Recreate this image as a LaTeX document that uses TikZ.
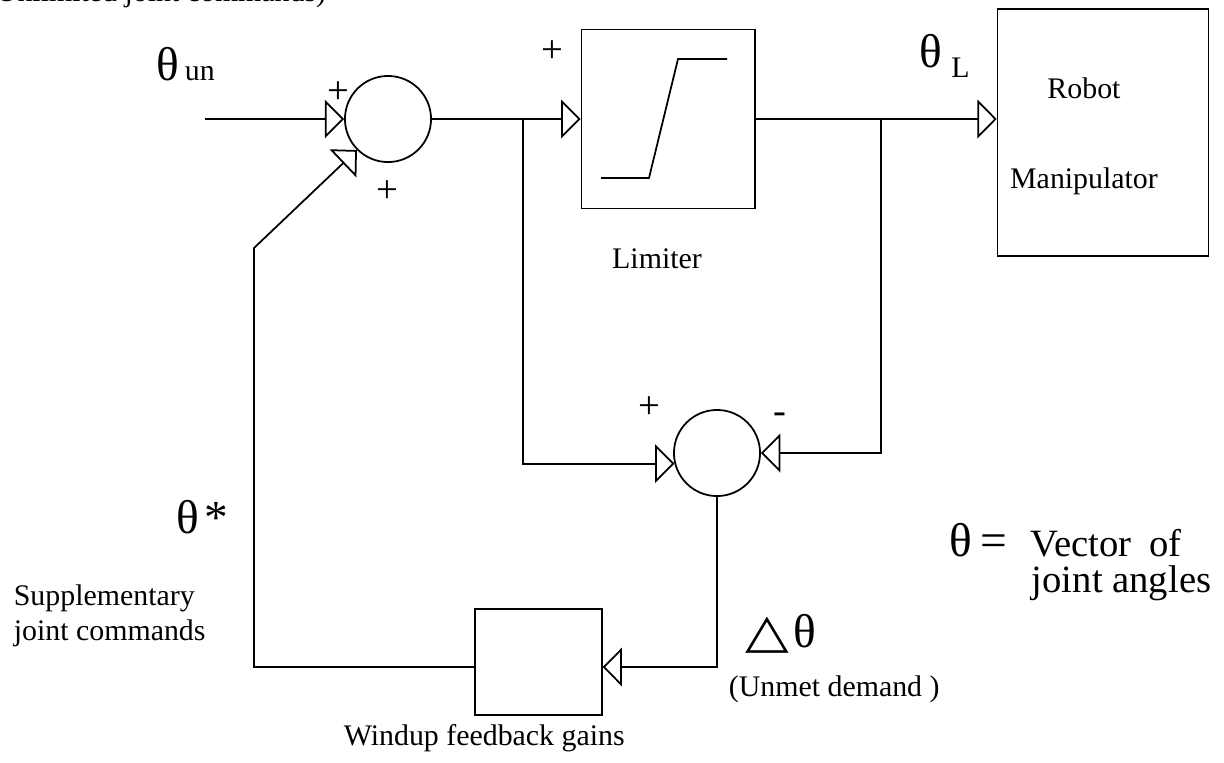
\documentclass[tikz,border=0pt]{standalone}
\usepackage{fontspec}
\setmainfont{Liberation Serif}
\newfontfamily\symfont{DejaVu Sans}
\usetikzlibrary{arrows.meta,calc}

\begin{document}
\begin{tikzpicture}[x=0.02cm,y=-0.02cm,line width=1pt,every node/.style={inner sep=0pt},
>={Triangle[open,length=11pt,width=22pt]},
sum/.style={draw,circle,minimum size=49pt},
txt/.style={font=\fontsize{17}{20}\selectfont},
sgn/.style={font=\fontsize{22}{26}\selectfont},
big/.style={font=\fontsize{22}{26}\selectfont},
tht/.style={font=\fontsize{27}{30}\selectfont}]
\useasboundingbox (0,0) rectangle (1224,762);
\node[sum](S1)at(388,119){};
\node[sum](S2)at(717,453){};
\node[draw,minimum width=98.6pt,minimum height=102pt](L)at(668,119){};
\node[draw,minimum width=120pt,minimum height=141pt](R)at(1103,132.5){};
\node[draw,minimum width=72pt,minimum height=60pt](W)at(538.5,662){};
\coordinate(A)at(205,119);
\coordinate(B)at(523,119);
\coordinate(C)at(881,119);
\coordinate(D)at(254,248);
\draw[->](A)--(S1);
\draw[->](S1)--(L);
\draw[->](L)--(L.east-|R.west);
\draw[->](B)|-(S2.194);
\draw[->](C)|-(S2.east);
\draw[->](S2.south)|-($(W.east)+(0,5)$);
\draw[->]($(W.west)+(0,5)$)-|(D)--(S1.225);
\draw(601,178)--(649,178)--(678,59)--(727,59);
\foreach \x/\y/\s in {338/93/+,387/192/+,552/52/+,649/408/+,780/418/-}
{\node[sgn](sg\x)at(\x,\y){\s};}
\node[txt,anchor=base east](top)at(327,1){Unlimited joint commands)};
\node[tht,anchor=base west](tun)at(156,80){θ\hspace{3pt}\fontsize{17}{20}\selectfont un};
\node[tht,anchor=base west](tL)at(919,67){θ\hspace{5pt}\raisebox{-6.2pt}{\fontsize{17}{20}\selectfont L}};
\node[tht,anchor=base west](ts)at(176,533){θ\hspace{3pt}*};
\node[txt,anchor=base](lt)at(657,268){Limiter};
\node[txt,anchor=base](r1)at(1084,98){Robot};
\node[txt,anchor=base](r2)at(1084,188){Manipulator};
\node[txt,anchor=base west](sup1)at(13,605){Supplementary};
\node[txt,anchor=base west](sup2)at(13,640){joint commands};
\node[tht,anchor=base west](dt)at(745,647){\scalebox{1.2}[1.0]{\symfont △}\hspace{2pt}θ};
\node[txt,anchor=base west](um)at(728,696){(Unmet demand )};
\node[txt,anchor=base west](wg)at(343,745){Windup feedback gains};
\node[tht,anchor=base west](eq)at(949,556){θ\,=};
\node[big,anchor=base west](v1)at(1030,556){Vector\hspace{0.45em}of};
\node[big,anchor=base west](v2)at(1031,592){joint angles};
\end{tikzpicture}
\end{document}
